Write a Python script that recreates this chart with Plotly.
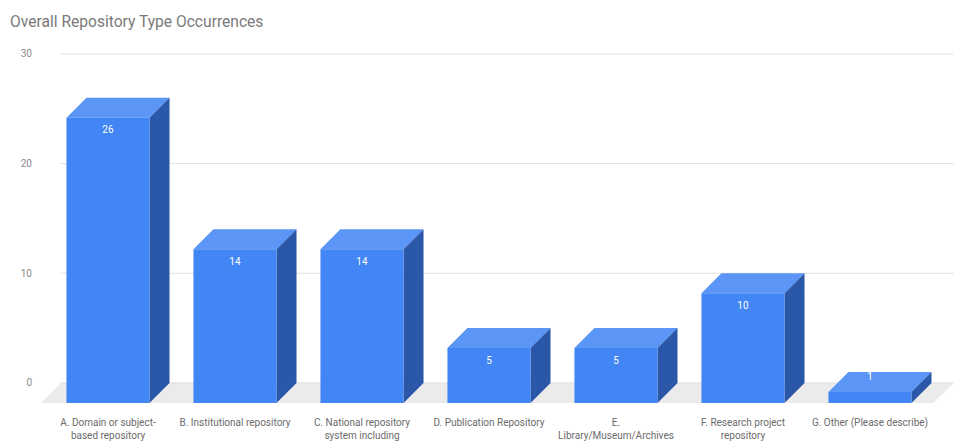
import plotly.graph_objects as go

# ---- data ----
categories = [
    "A. Domain or subject-<br>based repository",
    "B. Institutional repository",
    "C. National repository<br>system including",
    "D. Publication Repository",
    "E.<br>Library/Museum/Archives",
    "F. Research project<br>repository",
    "G. Other (Please describe)",
]
values = [26, 14, 14, 5, 5, 10, 1]
y_ticks = [0, 10, 20, 30]
title = "Overall Repository Type Occurrences"

# ---- style / pseudo-3D geometry (data units) ----
W = 0.654      # bar width
DX = 0.1575    # depth offset x
DY = 1.824     # depth offset y
FRONT = "#4285f4"
TOP = "#5b96f7"
SIDE = "#2b57a8"
FLOOR = "#ebebeb"
GRID = "#e0e0e0"

n = len(values)
fig = go.Figure()

# floor
fx = [-0.53, n - 0.5, n - 0.5 - DX, -0.53 - DX, -0.53]
fy = [0, 0, -DY, -DY, 0]
fig.add_trace(go.Scatter(x=fx, y=fy, fill="toself", fillcolor=FLOOR,
                         line=dict(width=0), mode="lines", hoverinfo="skip"))

# gridlines on back wall
gx, gy = [], []
for t in y_ticks:
    gx += [-0.53, n - 0.5, None]
    gy += [t, t, None]
fig.add_trace(go.Scatter(x=gx, y=gy, mode="lines", line=dict(color=GRID, width=1),
                         hoverinfo="skip"))

fxs, fys, txs, tys, sxs, sys_ = [], [], [], [], [], []
lx, ly = [], []
for i, v in enumerate(values):
    l = i - DX - W / 2
    r = i - DX + W / 2
    fxs += [l, r, r, l, l, None]
    fys += [-DY, -DY, v - DY, v - DY, -DY, None]
    txs += [l, r, r + DX, l + DX, l, None]
    tys += [v - DY, v - DY, v, v, v - DY, None]
    sxs += [r, r + DX, r + DX, r, r, None]
    sys_ += [-DY, 0, v, v - DY, -DY, None]
    lx.append(i - DX)
    ly.append(v - DY - 1.2 if v > 3 else v * 0.45)

fig.add_trace(go.Scatter(x=txs, y=tys, fill="toself", fillcolor=TOP,
                         line=dict(width=0), mode="lines", hoverinfo="skip"))
fig.add_trace(go.Scatter(x=sxs, y=sys_, fill="toself", fillcolor=SIDE,
                         line=dict(width=0), mode="lines", hoverinfo="skip"))
fig.add_trace(go.Scatter(x=fxs, y=fys, fill="toself", fillcolor=FRONT,
                         line=dict(width=0), mode="lines", hoverinfo="skip"))
fig.add_trace(go.Scatter(x=lx, y=ly, mode="text", text=[str(v) for v in values],
                         textfont=dict(color="white", size=10, family="Roboto"),
                         hoverinfo="skip"))

fig.update_layout(
    width=955, height=441,
    margin=dict(l=33, r=0, t=32, b=34),
    paper_bgcolor="white", plot_bgcolor="white",
    showlegend=False,
    font=dict(family="Roboto", color="#666666", size=10),
    title=dict(text=title, x=0.0105, xanchor="left", y=0.952, yanchor="middle",
               font=dict(size=15.6, color="#7a7a7a", family="Roboto")),
    xaxis=dict(range=[-0.748, 6.512], showgrid=False, zeroline=False,
               tickvals=[i - DX for i in range(n)], ticktext=categories,
               tickfont=dict(size=10, color="#6b6b6b"), ticks="", showline=False,
               ticklabelstandoff=8, fixedrange=True),
    yaxis=dict(range=[-2.2, 32], showgrid=False, zeroline=False,
               tickvals=y_ticks, ticktext=[str(t) for t in y_ticks],
               tickfont=dict(size=10, color="#8a8a8a"), ticks="", showline=False,
               fixedrange=True),
)

fig.write_html("out.html")
